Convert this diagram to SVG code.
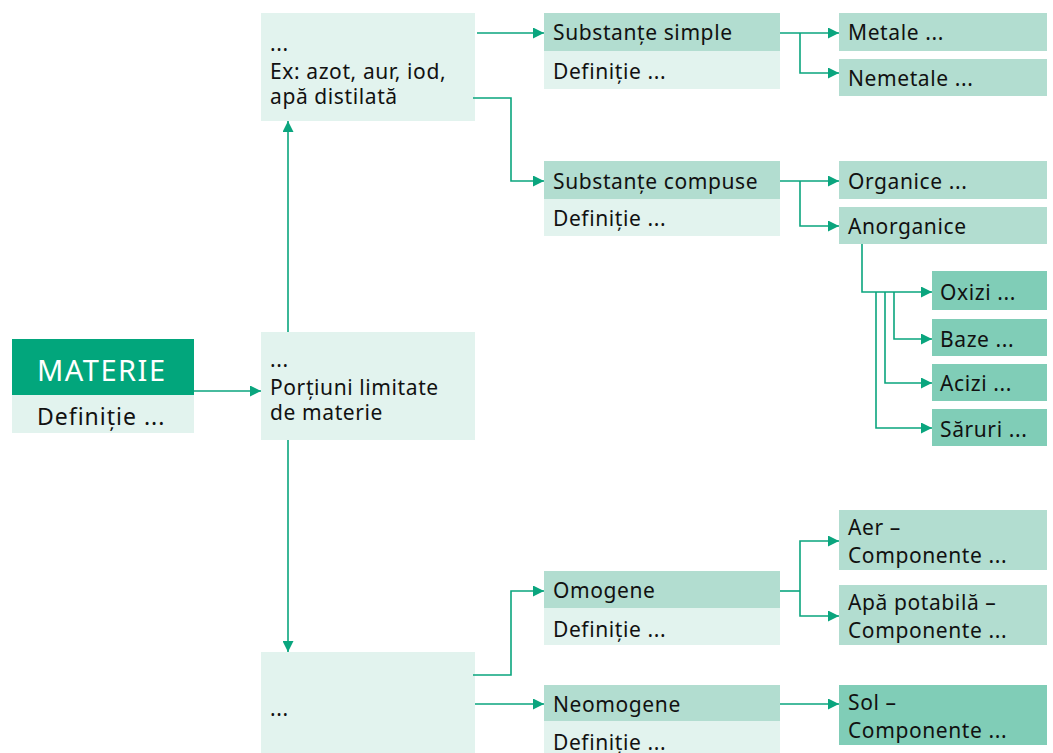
<svg xmlns="http://www.w3.org/2000/svg" width="1053" height="753" viewBox="0 0 1053 753">
<defs>
<style>
text{font-family:"Noto Sans","Open Sans","Liberation Sans",sans-serif;font-size:21px;letter-spacing:0.6px;fill:#111}
.light{fill:#e2f3ee}
.mid{fill:#b2ddd0}
.dark{fill:#80cdb7}
.main{fill:#02a67c}
.conn path{fill:none;stroke:#0aa57e;stroke-width:1.6}
</style>
<marker id="ah" viewBox="0 0 10 10" refX="10" refY="5" markerWidth="16" markerHeight="11" markerUnits="userSpaceOnUse" orient="auto">
<path d="M0,0 L10,5 L0,10 z" fill="#0aa57e"/>
</marker>
</defs>
<rect width="1053" height="753" fill="#fff"/>

<g id="materie">
<rect class="main" x="12" y="339" width="182" height="56"/>
<rect class="light" x="12" y="395" width="182" height="38"/>
<text x="37" y="381" style="font-size:29px;letter-spacing:1.5px;fill:#fff">MATERIE</text>
<text x="37" y="425" style="font-size:23px;letter-spacing:1px">Definiție ...</text>
</g>

<g id="corpuri">
<rect class="light" x="261" y="332" width="214" height="108"/>
<text x="270" y="367">...</text>
<text x="270" y="395">Porțiuni limitate</text>
<text x="270" y="420">de materie</text>
</g>

<g id="substante">
<rect class="light" x="261" y="13" width="214" height="108"/>
<text x="270" y="51">...</text>
<text x="270" y="79">Ex: azot, aur, iod,</text>
<text x="270" y="104">apă distilată</text>
</g>

<g id="amestecuri">
<rect class="light" x="261" y="652" width="214" height="101"/>
<text x="270" y="716">...</text>
</g>

<g id="simple">
<rect class="mid" x="544" y="13" width="236" height="38"/>
<rect class="light" x="544" y="51" width="236" height="38"/>
<text x="553" y="40">Substanțe simple</text>
<text x="553" y="79">Definiție ...</text>
</g>

<g id="compuse">
<rect class="mid" x="544" y="161" width="236" height="38"/>
<rect class="light" x="544" y="199" width="236" height="37"/>
<text x="553" y="189">Substanțe compuse</text>
<text x="553" y="226">Definiție ...</text>
</g>

<g id="metale"><rect class="mid" x="839" y="13" width="208" height="38"/><text x="848" y="40">Metale ...</text></g>
<g id="nemetale"><rect class="mid" x="839" y="59" width="208" height="37"/><text x="848" y="86">Nemetale ...</text></g>
<g id="organice"><rect class="mid" x="839" y="161" width="208" height="38"/><text x="848" y="189">Organice ...</text></g>
<g id="anorganice"><rect class="mid" x="839" y="207" width="208" height="37"/><text x="848" y="234">Anorganice</text></g>

<g id="oxizi"><rect class="dark" x="932" y="271" width="115" height="39"/><text x="940" y="300">Oxizi ...</text></g>
<g id="baze"><rect class="dark" x="932" y="319" width="115" height="37"/><text x="940" y="347">Baze ...</text></g>
<g id="acizi"><rect class="dark" x="932" y="364" width="115" height="37"/><text x="940" y="391">Acizi ...</text></g>
<g id="saruri"><rect class="dark" x="932" y="409" width="115" height="37"/><text x="940" y="437">Săruri ...</text></g>

<g id="omogene">
<rect class="mid" x="544" y="571" width="236" height="37"/>
<rect class="light" x="544" y="608" width="236" height="37"/>
<text x="553" y="598">Omogene</text>
<text x="553" y="637">Definiție ...</text>
</g>

<g id="neomogene">
<rect class="mid" x="544" y="685" width="236" height="36"/>
<rect class="light" x="544" y="721" width="236" height="32"/>
<text x="553" y="712">Neomogene</text>
<text x="553" y="750">Definiție ...</text>
</g>

<g id="aer"><rect class="mid" x="839" y="510" width="208" height="60"/><text x="848" y="535">Aer –</text><text x="848" y="563">Componente ...</text></g>
<g id="apa"><rect class="mid" x="839" y="585" width="208" height="60"/><text x="848" y="610">Apă potabilă –</text><text x="848" y="638">Componente ...</text></g>
<g id="sol"><rect class="dark" x="839" y="685" width="208" height="60"/><text x="848" y="710">Sol –</text><text x="848" y="738">Componente ...</text></g>

<g class="conn" id="connectors">
<path d="M194,391 H261" marker-end="url(#ah)"/>
<path d="M288,332 V121" marker-end="url(#ah)"/>
<path d="M288,440 V652" marker-end="url(#ah)"/>
<path d="M477,33 H544" marker-end="url(#ah)"/>
<path d="M473,98 H511 V181 H544" marker-end="url(#ah)"/>
<path d="M780,33 H839" marker-end="url(#ah)"/>
<path d="M800,33 V73 H839" marker-end="url(#ah)"/>
<path d="M780,181 H839" marker-end="url(#ah)"/>
<path d="M800,181 V226 H839" marker-end="url(#ah)"/>
<path d="M862,244 V292 H932" marker-end="url(#ah)"/>
<path d="M894,292 V339 H932" marker-end="url(#ah)"/>
<path d="M885,292 V383 H932" marker-end="url(#ah)"/>
<path d="M876,292 V428 H932" marker-end="url(#ah)"/>
<path d="M473,675 H511 V591 H544" marker-end="url(#ah)"/>
<path d="M475,704 H544" marker-end="url(#ah)"/>
<path d="M780,591 H800"/>
<path d="M800,591 V541 H839" marker-end="url(#ah)"/>
<path d="M800,591 V616 H839" marker-end="url(#ah)"/>
<path d="M780,704 H839" marker-end="url(#ah)"/>
</g>
</svg>
